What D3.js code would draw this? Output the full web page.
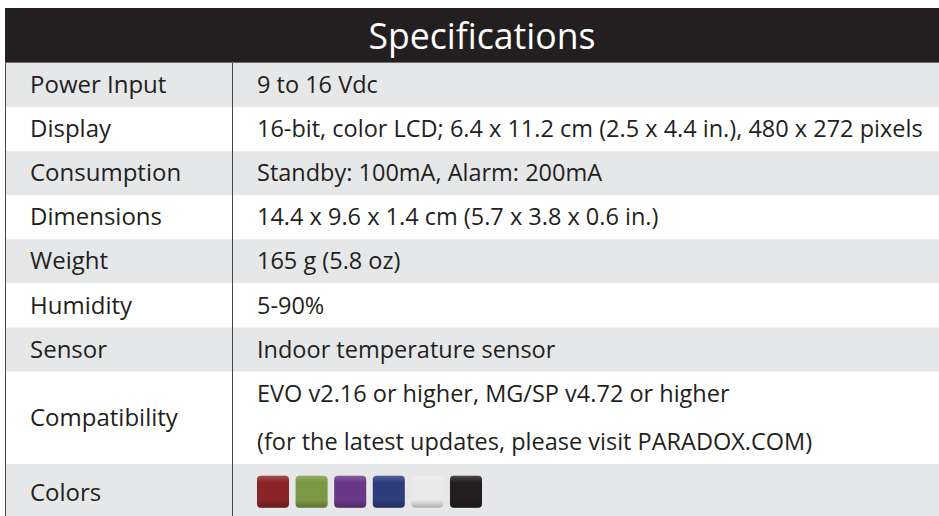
<!DOCTYPE html>
<html>
<meta charset="utf-8">
<title>Specifications</title>
<style>
  body { margin: 0; background: #fff; }
  svg { display: block; }
</style>
<body>
<div id="chartContainer"></div>
<script src="https://d3js.org/d3.v7.min.js"></script>
<script>
  // table content
  var title = "Specifications";
  var labels = ["Power Input", "Display", "Consumption", "Dimensions", "Weight",
                "Humidity", "Sensor", "Compatibility", "Colors"];
  var values = [
    ["9 to 16 Vdc"],
    ["16-bit, color LCD; 6.4 x 11.2 cm (2.5 x 4.4 in.), 480 x 272 pixels"],
    ["Standby: 100mA, Alarm: 200mA"],
    ["14.4 x 9.6 x 1.4 cm (5.7 x 3.8 x 0.6 in.)"],
    ["165 g (5.8 oz)"],
    ["5-90%"],
    ["Indoor temperature sensor"],
    ["EVO v2.16 or higher, MG/SP v4.72 or higher",
     "(for the latest updates, please visit PARADOX.COM)"],
    []
  ];
  var lineCount = [1, 1, 1, 1, 1, 1, 1, 2.09, 1.25];
  var swatches = ["#8a2428", "#7b9845", "#6a3888", "#2f3c7c", "#e9e9ea", "#231f20"];

  var W = 939, H = 516;
  var left = 5, divX = 232, headTop = 8, headBottom = 63;
  var rowUnit = 44.1;
  var ink = "#231f20", band = "#e6e7e8";
  var font = "'Open Sans', sans-serif";

  var svg = d3.select("#chartContainer").append("svg")
    .attr("width", W).attr("height", H);

  // row positions built from the line counts
  var tops = [];
  var acc = headBottom;
  lineCount.forEach(function (n) { tops.push(acc); acc += n * rowUnit; });
  var rows = labels.map(function (l, i) {
    return { label: l, vals: values[i], y: tops[i], h: lineCount[i] * rowUnit, i: i };
  });

  // header
  svg.append("rect")
    .attr("x", left).attr("y", headTop)
    .attr("width", W - left).attr("height", headBottom - headTop)
    .style("fill", ink);
  svg.append("line")
    .attr("x1", left).attr("x2", W).attr("y1", headBottom - 0.5).attr("y2", headBottom - 0.5)
    .style("stroke", "#6d6e71").style("stroke-width", 1);
  svg.append("text")
    .attr("x", 482).attr("y", 48.5)
    .style("text-anchor", "middle")
    .style("font-family", font)
    .style("font-size", "35.6px")
    .style("fill", "#fff")
    .text(title);

  var g = svg.selectAll("g.row").data(rows).enter().append("g").attr("class", "row");

  g.append("rect")
    .attr("x", left).attr("y", function (d) { return d.y; })
    .attr("width", W - left).attr("height", function (d) { return d.h; })
    .style("fill", function (d) { return d.i % 2 === 0 ? band : "#fff"; });

  g.append("text")
    .attr("x", 30)
    .attr("y", function (d) {
      return d.i === rows.length - 1 ? d.y + 37 : d.y + d.h / 2 + 8;
    })
    .style("font-family", font)
    .style("font-size", "24px")
    .style("fill", ink)
    .text(function (d) { return d.label; });

  g.each(function (d) {
    var sel = d3.select(this);
    d.vals.forEach(function (v, k) {
      sel.append("text")
        .attr("x", 257)
        .attr("y", d.y + 30 + k * 48)
        .style("font-family", font)
        .style("font-size", "23.5px")
        .style("fill", ink)
        .text(v);
    });
  });

  // grid lines
  svg.append("line")
    .attr("x1", left + 0.5).attr("x2", left + 0.5).attr("y1", headBottom).attr("y2", H)
    .style("stroke", "#444").style("stroke-width", 1);
  svg.append("line")
    .attr("x1", divX + 0.5).attr("x2", divX + 0.5).attr("y1", headBottom).attr("y2", H)
    .style("stroke", "#444").style("stroke-width", 1);

  // colour swatches
  var defs = svg.append("defs");
  var grad = defs.append("linearGradient").attr("id", "bevel")
    .attr("x1", 0).attr("y1", 0).attr("x2", 0).attr("y2", 1);
  grad.append("stop").attr("offset", "0%").attr("stop-color", "#fff").attr("stop-opacity", 0.18);
  grad.append("stop").attr("offset", "20%").attr("stop-color", "#fff").attr("stop-opacity", 0);
  grad.append("stop").attr("offset", "75%").attr("stop-color", "#000").attr("stop-opacity", 0);
  grad.append("stop").attr("offset", "100%").attr("stop-color", "#000").attr("stop-opacity", 0.25);

  var sx = d3.scaleBand().domain(d3.range(swatches.length)).range([257, 482]).paddingInner(0.17).paddingOuter(0);
  var lastRow = rows[rows.length - 1];
  var sw = svg.append("g").selectAll("g").data(swatches).enter().append("g");
  sw.append("rect")
    .attr("x", function (d, i) { return sx(i); })
    .attr("y", lastRow.y + 12)
    .attr("width", sx.bandwidth()).attr("height", 32)
    .attr("rx", 4)
    .style("fill", function (d) { return d; });
  sw.append("rect")
    .attr("x", function (d, i) { return sx(i); })
    .attr("y", lastRow.y + 12)
    .attr("width", sx.bandwidth()).attr("height", 32)
    .attr("rx", 4)
    .style("fill", "url(#bevel)");
</script>
</body>
</html>
